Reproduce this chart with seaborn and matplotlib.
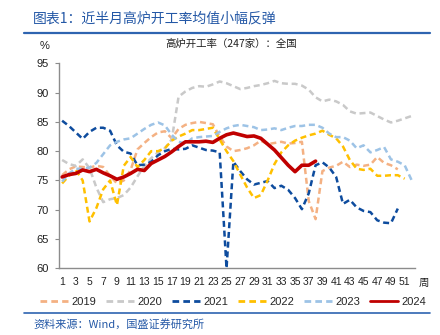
import numpy as np
import pandas as pd
import matplotlib
matplotlib.use("Agg")
import matplotlib.pyplot as plt
import seaborn as sns

weeks = list(range(1, 53))
years = ["2019", "2020", "2021", "2022", "2023", "2024"]

y2019 = [75.9, 76.9, 77.4, 77.3, 77.2, 77.5, 77.3, 75.8, 74.5, 75.0,
         76.8, 80.3, 81.4, 82.4, 83.2, 83.4, 82.2, 83.8, 84.5, 84.8,
         85.0, 84.8, 84.6, 82.5, 80.8, 80.0, 80.2, 80.5, 81.0, 81.8,
         81.2, 81.4, 81.6, 81.3, 81.4, 81.6, 71.5, 68.4, 76.6, 77.2,
         77.5, 78.2, 77.3, 77.7, 77.5, 77.7, 79.0, 78.0, 77.6, 76.9]
y2020 = [78.5, 77.8, 77.5, 78.6, 77.1, 73.8, 71.3, 71.8, 72.0, 72.5,
         73.8, 75.7, 77.5, 78.8, 79.8, 80.5, 82.0, 89.3, 90.2, 90.8,
         91.1, 91.0, 91.4, 91.9, 91.6, 91.1, 90.6, 90.8, 91.1, 91.3,
         91.6, 92.0, 91.6, 91.5, 91.5, 91.2, 90.5, 89.2, 88.5, 88.8,
         88.5, 87.9, 86.8, 86.4, 86.5, 86.6, 86.0, 85.4, 84.9, 85.2,
         85.6, 86.0]
y2021 = [85.2, 84.3, 83.2, 82.1, 83.3, 84.0, 84.0, 83.5, 81.0, 79.9,
         79.6, 77.6, 77.7, 78.2, 79.3, 80.0, 80.4, 80.3, 80.4, 81.0,
         80.6, 80.2, 80.1, 79.8, 60.0, 78.2, 76.6, 75.2, 74.3, 74.6,
         74.9, 73.7, 74.1, 73.4, 72.0, 70.1, 72.8, 77.6, 78.1, 77.2,
         75.6, 71.0, 71.7, 70.4, 69.8, 69.6, 68.2, 67.8, 67.7, 70.2]
y2022 = [74.5, 75.8, 76.8, 75.0, 68.0, 70.3, 73.5, 75.0, 70.8, 77.5,
         79.0, 77.3, 78.5, 80.0, 80.0, 80.5, 81.8, 82.5, 83.0, 83.6,
         83.6, 83.8, 84.0, 82.0, 80.0, 78.3, 76.0, 73.8, 72.0, 72.5,
         75.0, 77.8, 79.8, 81.0, 81.8, 82.3, 82.7, 83.0, 83.5, 82.8,
         82.2, 80.8, 78.5, 77.0, 76.8, 77.0, 75.8, 75.8, 75.9, 75.9,
         75.3]
y2023 = [74.8, 76.2, 77.0, 77.0, 77.2, 78.0, 79.5, 81.0, 81.6, 82.0,
         82.2, 83.0, 83.8, 84.5, 84.9, 84.4, 82.8, 81.6, 81.3, 82.2,
         82.4, 82.5, 82.6, 83.3, 83.9, 84.3, 84.5, 84.3, 84.1, 83.6,
         83.7, 83.9, 83.6, 84.0, 84.3, 84.3, 84.5, 84.5, 84.0, 83.0,
         82.4, 82.4, 81.8, 80.5, 81.0, 79.8, 80.2, 80.7, 78.6, 78.2,
         77.6, 75.1]
y2024 = [75.6, 76.0, 76.2, 76.8, 76.5, 76.9, 76.3, 75.8, 75.2, 75.6,
         76.2, 76.9, 76.7, 77.9, 78.5, 79.1, 79.9, 80.8, 81.6, 81.6,
         81.6, 81.7, 81.5, 82.2, 82.8, 83.1, 82.8, 82.5, 82.6, 82.2,
         81.2, 80.2, 78.9, 77.6, 76.5, 77.6, 77.6, 78.3]

xtick_labels = [str(w) for w in range(1, 52, 2)]

series = [y2019, y2020, y2021, y2022, y2023, y2024]
rows = []
for yr, vals in zip(years, series):
    for w, v in zip(weeks, vals):
        rows.append({"week": w, "rate": v, "year": yr})
df = pd.DataFrame(rows)

sns.set_theme(style="white")
plt.rcParams["font.family"] = ["Liberation Sans", "Noto Sans CJK SC", "DejaVu Sans"]

palette = {"2019": "#F4B183", "2020": "#C9C9C9", "2021": "#0E4C9E",
           "2022": "#FFC000", "2023": "#9DC3E6", "2024": "#C00000"}
dashes = {"2019": (2.4, 1.5), "2020": (2.4, 1.5), "2021": (2.4, 1.5),
          "2022": (2.4, 1.5), "2023": (2.4, 1.5), "2024": ""}
sizes = {"2019": 1.8, "2020": 1.8, "2021": 1.8, "2022": 1.8, "2023": 1.8, "2024": 2.6}

fig = plt.figure(figsize=(4.4, 3.35), dpi=100)
ax = fig.add_axes([0.1334, 0.199, 0.943 - 0.1334, 0.811 - 0.199])

sns.lineplot(data=df, x="week", y="rate", hue="year", style="year",
             size="year", sizes=sizes, palette=palette, dashes=dashes,
             hue_order=years, style_order=years, size_order=years,
             ax=ax, legend=True)

handles, labels = ax.get_legend_handles_labels()
ax.get_legend().remove()

ax.set_xlim(0.5, 52.5)
ax.set_ylim(60, 95)
ax.set_xticks(range(1, 52, 2))
ax.set_xticklabels(xtick_labels)
ax.set_yticks(range(60, 96, 5))
ax.set_xlabel("")
ax.set_ylabel("")
for s in ["top", "right"]:
    ax.spines[s].set_visible(False)
for s in ["left", "bottom"]:
    ax.spines[s].set_color("#8C8C8C")
    ax.spines[s].set_linewidth(1.0)
ax.tick_params(axis="x", length=0, pad=6, labelsize=7.5, colors="#222222")
ax.tick_params(axis="y", length=3, width=0.8, color="#8C8C8C", pad=4,
               labelsize=8, labelcolor="#222222", left=True)
ax.grid(False)

fig.text(0.952, 0.155, "周", fontsize=7.5, family=["Noto Sans CJK SC"],
         ha="left", va="center", color="#222222")
fig.text(0.102, 0.862, "%", fontsize=8, ha="center", va="center", color="#222222")
fig.text(0.525, 0.868, "高炉开工率（247家）：全国", fontsize=7.5,
         family=["Noto Sans CJK SC", "DejaVu Sans"], ha="center", va="center",
         color="#222222")

fig.text(0.075, 0.946, "图表1：近半月高炉开工率均值小幅反弹", fontsize=10,
         family=["Noto Sans CJK SC", "DejaVu Sans"], ha="left", va="center",
         color="#2458A6", style="italic")
fig.add_artist(plt.Line2D([0.055, 0.977], [0.901, 0.901], color="#2E64B0",
                          lw=1.6, transform=fig.transFigure))
fig.add_artist(plt.Line2D([0.055, 0.977], [0.065, 0.065], color="#2E64B0",
                          lw=1.2, transform=fig.transFigure))
fig.text(0.077, 0.033, "资料来源：Wind，国盛证券研究所", fontsize=8,
         family=["Noto Sans CJK SC", "DejaVu Sans"], ha="left", va="center",
         color="#2458A6", style="italic")

leg = fig.legend(handles, labels, ncol=6, loc="center",
                 bbox_to_anchor=(0.53, 0.098), frameon=False, fontsize=8,
                 handlelength=2.5, columnspacing=0.9, handletextpad=0.3,
                 borderpad=0.1, borderaxespad=0)
for line in leg.get_lines():
    line.set_linewidth(2.0)

fig.savefig("out.png", dpi=100)
